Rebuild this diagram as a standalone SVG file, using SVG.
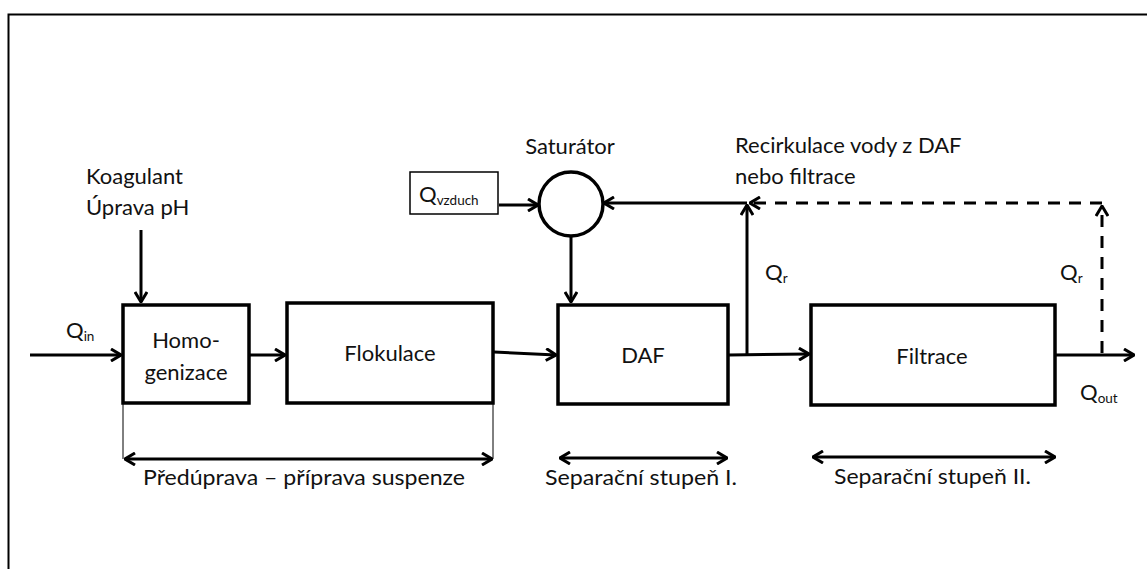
<svg xmlns="http://www.w3.org/2000/svg" width="1147" height="569" viewBox="0 0 1147 569">
<style>
.box{fill:#fff;stroke:#000;stroke-width:3.5}
.ln{fill:none;stroke:#000;stroke-width:3}
.dash{fill:none;stroke:#000;stroke-width:3;stroke-dasharray:12 9}
.t{font-family:Lato,"Liberation Sans",sans-serif;font-size:22px;fill:#111}
.s{font-size:13.5px}
.b{font-family:Lato,"Liberation Sans",sans-serif;font-size:21.5px;fill:#111}
</style>
<defs>
<marker id="ah" viewBox="0 0 12 14" refX="11" refY="7" markerWidth="12" markerHeight="14" markerUnits="userSpaceOnUse" orient="auto-start-reverse">
<path d="M1,1 L11,7 L1,13" fill="none" stroke="#000" stroke-width="3"/>
</marker>
</defs>
<rect x="0" y="0" width="1147" height="569" fill="#fff"/>
<rect x="8.5" y="14.5" width="1160" height="600" fill="none" stroke="#000" stroke-width="2"/>

<g id="connectors">
<line class="ln" x1="30" y1="355" x2="121" y2="355" marker-end="url(#ah)"/>
<line class="ln" x1="141" y1="230" x2="141" y2="302" marker-end="url(#ah)"/>
<line class="ln" x1="250" y1="355" x2="285" y2="355" marker-end="url(#ah)"/>
<line class="ln" x1="494" y1="352" x2="556" y2="355" marker-end="url(#ah)"/>
<line class="ln" x1="499" y1="205" x2="538" y2="205" marker-end="url(#ah)"/>
<line class="ln" x1="571" y1="236" x2="571" y2="302" marker-end="url(#ah)"/>
<line class="ln" x1="729" y1="355" x2="809" y2="354" marker-end="url(#ah)"/>
<line class="ln" x1="747" y1="355" x2="747" y2="205" marker-end="url(#ah)"/>
<line class="ln" x1="747" y1="203" x2="604" y2="203" marker-end="url(#ah)"/>
<line class="dash" x1="1102" y1="203" x2="750" y2="203" marker-end="url(#ah)"/>
<line class="dash" x1="1102" y1="353" x2="1102" y2="206" marker-end="url(#ah)"/>
<line class="ln" x1="1056" y1="355" x2="1134" y2="355" marker-end="url(#ah)"/>
<line stroke="#000" stroke-width="1" x1="123" y1="404" x2="123" y2="459"/>
<line stroke="#000" stroke-width="1" x1="493" y1="404" x2="493" y2="459"/>
<line class="ln" x1="125" y1="459" x2="492" y2="459" marker-start="url(#ah)" marker-end="url(#ah)"/>
<line class="ln" x1="560" y1="458" x2="727" y2="458" marker-start="url(#ah)" marker-end="url(#ah)"/>
<line class="ln" x1="813" y1="457" x2="1055" y2="457" marker-start="url(#ah)" marker-end="url(#ah)"/>
</g>

<g id="homogenizace">
<rect class="box" x="123" y="305" width="126" height="98"/>
<text class="t" x="186" y="348" text-anchor="middle">Homo-</text>
<text class="t" x="186" y="380" text-anchor="middle">genizace</text>
</g>
<g id="flokulace">
<rect class="box" x="287" y="303" width="206" height="100"/>
<text class="t" x="390" y="361" text-anchor="middle">Flokulace</text>
</g>
<g id="daf">
<rect class="box" x="558" y="305" width="170" height="99"/>
<text class="t" x="643" y="363" text-anchor="middle">DAF</text>
</g>
<g id="filtrace">
<rect class="box" x="811" y="305" width="244" height="100"/>
<text class="t" x="932" y="364" text-anchor="middle">Filtrace</text>
</g>
<g id="saturator">
<circle cx="571" cy="204" r="32" fill="#fff" stroke="#000" stroke-width="3.5"/>
<text class="t" x="570" y="154" text-anchor="middle">Saturátor</text>
</g>
<g id="qvzduch">
<rect x="410" y="172" width="88" height="42" fill="#fff" stroke="#000" stroke-width="1.5"/>
<text class="t" x="419" y="202">Q<tspan class="s" dy="3">vzduch</tspan></text>
</g>

<g id="labels">
<text class="t" x="86" y="184">Koagulant</text>
<text class="t" x="86" y="215">Úprava pH</text>
<text class="t" x="66" y="338">Q<tspan class="s" dy="3">in</tspan></text>
<text class="t" x="735" y="153">Recirkulace vody z DAF</text>
<text class="t" x="735" y="184">nebo filtrace</text>
<text class="t" x="765" y="280">Q<tspan class="s" dy="3">r</tspan></text>
<text class="t" x="1060" y="280">Q<tspan class="s" dy="3">r</tspan></text>
<text class="t" x="1080" y="400">Q<tspan class="s" dy="3">out</tspan></text>
<text class="b" x="143" y="485" textLength="322" lengthAdjust="spacingAndGlyphs">Předúprava – příprava suspenze</text>
<text class="b" x="545" y="485" textLength="192" lengthAdjust="spacingAndGlyphs">Separační stupeň I.</text>
<text class="b" x="834" y="484" textLength="197" lengthAdjust="spacingAndGlyphs">Separační stupeň II.</text>
</g>
</svg>
